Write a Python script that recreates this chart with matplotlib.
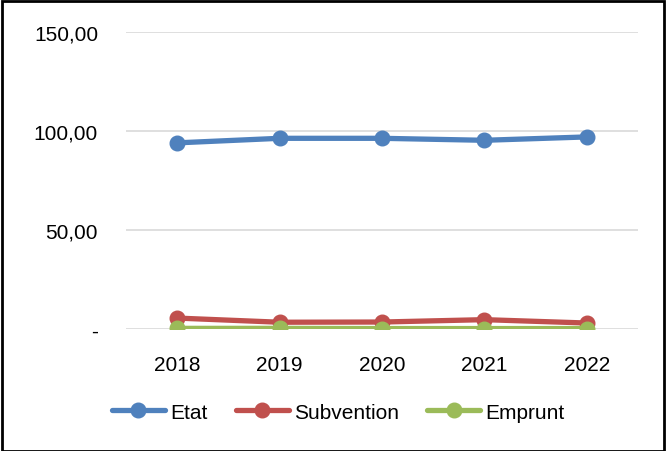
import matplotlib.pyplot as plt
from matplotlib.patches import Rectangle
from matplotlib.ticker import FuncFormatter

# Data
years = ["2018", "2019", "2020", "2021", "2022"]
etat = [94.0, 96.3, 96.3, 95.3, 97.0]
subvention = [5.5, 3.4, 3.5, 4.7, 3.0]
emprunt = [0.3, 0.3, 0.2, 0.2, 0.2]

series_names = ["Etat", "Subvention", "Emprunt"]
series_colors = ["#4F81BD", "#C0504D", "#9BBB59"]

plt.rcParams['font.family'] = ['Liberation Sans', 'DejaVu Sans']

fig = plt.figure(figsize=(6.66, 4.52), dpi=100)
ax = fig.add_axes([0.189, 0.270, 0.769, 0.657])

x = range(len(years))
for vals, name, color in zip([etat, subvention, emprunt], series_names, series_colors):
    ax.plot(x, vals, color=color, lw=3.8, marker='o', markersize=10.5,
            solid_capstyle='round', label=name, zorder=3)

ax.set_xlim(-0.5, len(years) - 0.5)
ax.set_ylim(0, 150)
ax.set_yticks([0, 50, 100, 150])

def fmt(v, pos):
    if v == 0:
        return "-"
    return f"{v:.2f}".replace(".", ",")

ax.yaxis.set_major_formatter(FuncFormatter(fmt))
ax.set_xticks(list(x))
ax.set_xticklabels(years)

ax.grid(axis='y', color='#D9D9D9', lw=1.2)
ax.set_axisbelow(True)
for s in ax.spines.values():
    s.set_visible(False)
ax.tick_params(axis='both', length=0, labelsize=15, colors='black')
ax.tick_params(axis='y', pad=20)
ax.tick_params(axis='x', pad=19)

fig.legend(loc='center', bbox_to_anchor=(0.508, 0.086), ncol=3, frameon=False,
           fontsize=15, handlelength=2.55, columnspacing=1.35, handletextpad=0.25)

# black frame around the chart
fig.patches.append(Rectangle((0.003, 0.0), 0.994, 0.995, transform=fig.transFigure,
                             fill=False, edgecolor='black', lw=2))

fig.savefig("out.png", dpi=100)
